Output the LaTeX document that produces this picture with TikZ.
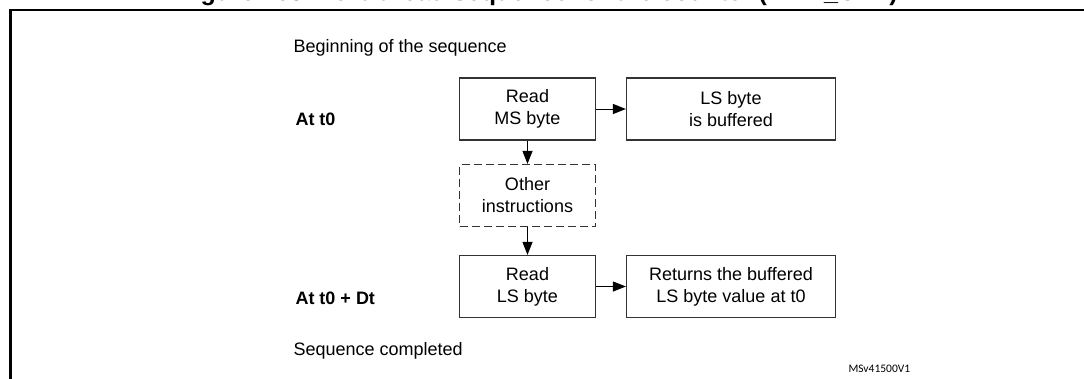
\documentclass[tikz,border=0pt]{standalone}
\usepackage{fontspec}
\setmainfont{Liberation Sans}
\newfontfamily\tagfont{Carlito}
\usetikzlibrary{arrows.meta}

\tikzset{
  stepbox/.style={draw=black!80, line width=1.2pt, minimum width=136pt,
    minimum height=62pt, inner sep=0pt, align=center,
    font=\fontsize{18}{22}\selectfont},
  widebox/.style={stepbox, minimum width=209pt},
  otherbox/.style={stepbox, dash pattern=on 8pt off 4pt},
  phase/.style={anchor=base west, inner sep=0pt,
    font=\fontsize{18}{20}\selectfont\bfseries},
  remark/.style={anchor=base west, inner sep=0pt,
    font=\fontsize{18}{20}\selectfont},
}

\begin{document}
\begin{tikzpicture}[x=1pt, y=-1pt, line width=1pt,
    >={Triangle[length=13pt,width=10pt]}]
\useasboundingbox (0,0) rectangle (1084,378);
\clip (0,0) rectangle (1084,378);
% frame and title, cut by the page edge
\draw[line width=2.2pt] (1100,10) -- (10.5,10) -- (10.5,400);
\node[anchor=base west, inner sep=0pt,
      font=\fontsize{25}{30}\selectfont\bfseries] (title) at (178,0.5)
  {Figure 163. 16-bit read sequence for the counter (TIMx\_CNT)};

\node[remark] (begin) at (293,52)  {Beginning of the sequence};
\node[phase]  (tzero) at (295,125) {At t0};
\node[phase]  (tlate) at (295,304) {At t0 + Dt};
\node[remark] (done)  at (293,355) {Sequence completed};

\node[stepbox]  (msread) at (527.5,109)   {Read\\MS byte};
\node[widebox]  (buffer) at (731,109)     {LS byte\\is buffered};
\node[otherbox] (other)  at (527.5,195.5) {Other\\instructions};
\node[stepbox]  (lsread) at (527.5,286.5) {Read\\LS byte};
\node[widebox]  (result) at (731,286.5)   {Returns the buffered\\LS byte value at t0};

\draw[->] (msread) -- (buffer);
\draw[->] (msread) -- (other);
\draw[->] (other)  -- (lsread);
\draw[->] (lsread) -- (result);

\node[anchor=base west, inner sep=0pt, font=\tagfont\fontsize{11.5}{13}\selectfont]
  (ref) at (848,372) {MSv41500V1};
\end{tikzpicture}
\end{document}
